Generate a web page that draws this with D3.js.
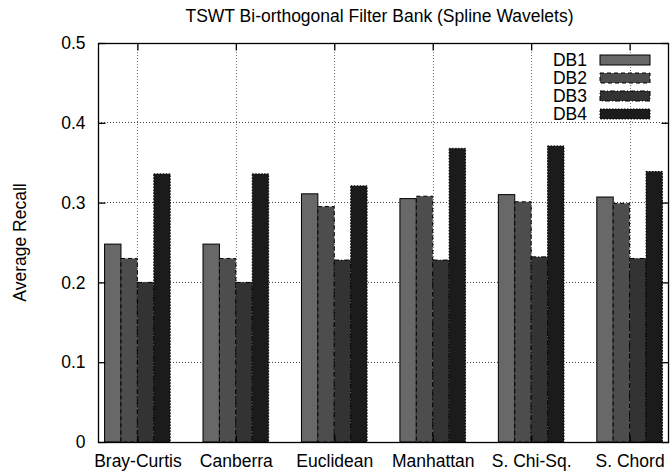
<!DOCTYPE html>
<html>
<head>
<meta charset="utf-8">
<script src="https://cdn.jsdelivr.net/npm/d3@7"></script>
<style>
  html, body { margin: 0; padding: 0; background: #fff; }
  svg { display: block; font-family: "Liberation Sans", Arial, Helvetica, sans-serif; }
</style>
</head>
<body>
<svg id="chart" width="670" height="476"></svg>
<script>
// Average recall per distance measure, one series per Daubechies filter
const categories = ["Bray-Curtis", "Canberra", "Euclidean", "Manhattan", "S. Chi-Sq.", "S. Chord"];
const seriesNames = ["DB1", "DB2", "DB3", "DB4"];
const db1 = [0.248, 0.248, 0.311, 0.305, 0.310, 0.307];
const db2 = [0.230, 0.230, 0.295, 0.308, 0.301, 0.299];
const db3 = [0.200, 0.200, 0.228, 0.228, 0.232, 0.230];
const db4 = [0.336, 0.336, 0.321, 0.368, 0.371, 0.339];
const yTicks = [0, 0.1, 0.2, 0.3, 0.4, 0.5];
const yTickLabels = ["0", "0.1", "0.2", "0.3", "0.4", "0.5"];

const seriesValues = [db1, db2, db3, db4];
const fills = ["#686868", "#4d4d4d", "#333333", "#1b1b1b"];
const borderDash = [null, "4,3", "5,2,1,2", "1.5,1.5"];

const W = 670, H = 476;
const m = { left: 98, right: 1, top: 43, bottom: 34 };
const FS = 17.5;

const svg = d3.select("#chart");

const x = d3.scaleLinear().domain([-0.4, categories.length - 0.6]).range([m.left, W - m.right]);
const y = d3.scaleLinear().domain([0, 0.5]).range([H - m.bottom, m.top]);

const nSeries = seriesNames.length;
const barW = 1 / (nSeries + 2); // clustered histogram with a gap of two bar widths

// grid
const grid = svg.append("g").attr("class", "grid");
grid.selectAll("line.h").data(yTicks.slice(1, -1)).join("line")
  .attr("class", "h")
  .attr("x1", m.left).attr("x2", W - m.right)
  .attr("y1", d => y(d)).attr("y2", d => y(d))
  .attr("stroke", "#444").attr("stroke-width", 1).attr("stroke-dasharray", "1,2")
  .attr("shape-rendering", "crispEdges");
grid.selectAll("line.v").data(categories.map((c, i) => i)).join("line")
  .attr("class", "v")
  .attr("x1", d => Math.round(x(d)) + 0.5).attr("x2", d => Math.round(x(d)) + 0.5)
  .attr("y1", m.top).attr("y2", H - m.bottom)
  .attr("stroke", "#777").attr("stroke-width", 1).attr("stroke-dasharray", "1,2");

// bars
const rows = [];
seriesValues.forEach((vals, s) => vals.forEach((v, i) => rows.push({ s, i, v })));

svg.append("g").attr("class", "bars")
  .selectAll("rect").data(rows).join("rect")
  .attr("x", d => x(d.i + (d.s - nSeries / 2) * barW))
  .attr("width", d => x(barW) - x(0))
  .attr("y", d => y(d.v))
  .attr("height", d => y(0) - y(d.v))
  .attr("fill", d => fills[d.s])
  .attr("stroke", "#000")
  .attr("stroke-width", 1)
  .attr("stroke-dasharray", d => borderDash[d.s]);

// frame with inward ticks on all four sides
const frame = svg.append("g").attr("class", "frame");
const tickLen = 7;
frame.append("rect")
  .attr("x", m.left + 0.5).attr("y", m.top + 0.5)
  .attr("width", W - m.right - m.left - 1).attr("height", H - m.bottom - m.top)
  .attr("fill", "none").attr("stroke", "#000").attr("stroke-width", 1.3);

const yAxisL = d3.axisLeft(y).tickValues(yTicks).tickSizeInner(-tickLen).tickSizeOuter(0)
  .tickFormat((d, i) => yTickLabels[i]).tickPadding(13);
const gyl = svg.append("g").attr("transform", `translate(${m.left + 0.5},0)`).call(yAxisL);
gyl.select(".domain").remove();
gyl.selectAll("text").attr("font-size", FS).attr("fill", "#000")
  .attr("font-family", "Liberation Sans, Arial, sans-serif");
gyl.selectAll("line").attr("stroke", "#000").attr("stroke-width", 1.3);

const yAxisR = d3.axisRight(y).tickValues(yTicks).tickSizeInner(-tickLen).tickSizeOuter(0).tickFormat("");
const gyr = svg.append("g").attr("transform", `translate(${W - m.right - 0.5},0)`).call(yAxisR);
gyr.select(".domain").remove();
gyr.selectAll("line").attr("stroke", "#000").attr("stroke-width", 1.3);

const xAxisB = d3.axisBottom(x).tickValues(categories.map((c, i) => i)).tickSizeInner(-tickLen).tickSizeOuter(0)
  .tickFormat((d) => categories[d]).tickPadding(12);
const gxb = svg.append("g").attr("transform", `translate(0,${H - m.bottom + 0.5})`).call(xAxisB);
gxb.select(".domain").remove();
gxb.selectAll("text").attr("font-size", FS).attr("fill", "#000")
  .attr("font-family", "Liberation Sans, Arial, sans-serif");
gxb.selectAll("line").attr("stroke", "#000").attr("stroke-width", 1.3);

const xAxisT = d3.axisTop(x).tickValues(categories.map((c, i) => i)).tickSizeInner(-tickLen).tickSizeOuter(0).tickFormat("");
const gxt = svg.append("g").attr("transform", `translate(0,${m.top + 0.5})`).call(xAxisT);
gxt.select(".domain").remove();
gxt.selectAll("line").attr("stroke", "#000").attr("stroke-width", 1.3);

// title and axis label
svg.append("text")
  .attr("x", (m.left + W - m.right) / 2 - 4).attr("y", 22)
  .attr("text-anchor", "middle").attr("font-size", FS)
  .text("TSWT Bi-orthogonal Filter Bank (Spline Wavelets)");

svg.append("text")
  .attr("transform", `translate(26,${(m.top + H - m.bottom) / 2}) rotate(-90)`)
  .attr("text-anchor", "middle").attr("font-size", FS)
  .text("Average Recall");

// legend
const legend = svg.append("g").attr("class", "legend");
const legRows = legend.selectAll("g").data(seriesNames).join("g")
  .attr("transform", (d, i) => `translate(0,${60 + i * 18})`);
legRows.append("text")
  .attr("x", 587).attr("y", 0).attr("dy", "0.35em")
  .attr("text-anchor", "end").attr("font-size", FS)
  .text(d => d);
legRows.append("rect")
  .attr("x", 600).attr("y", -5).attr("width", 50).attr("height", 10)
  .attr("fill", (d, i) => fills[i])
  .attr("stroke", "#000").attr("stroke-width", 1)
  .attr("stroke-dasharray", (d, i) => borderDash[i]);
</script>
</body>
</html>
